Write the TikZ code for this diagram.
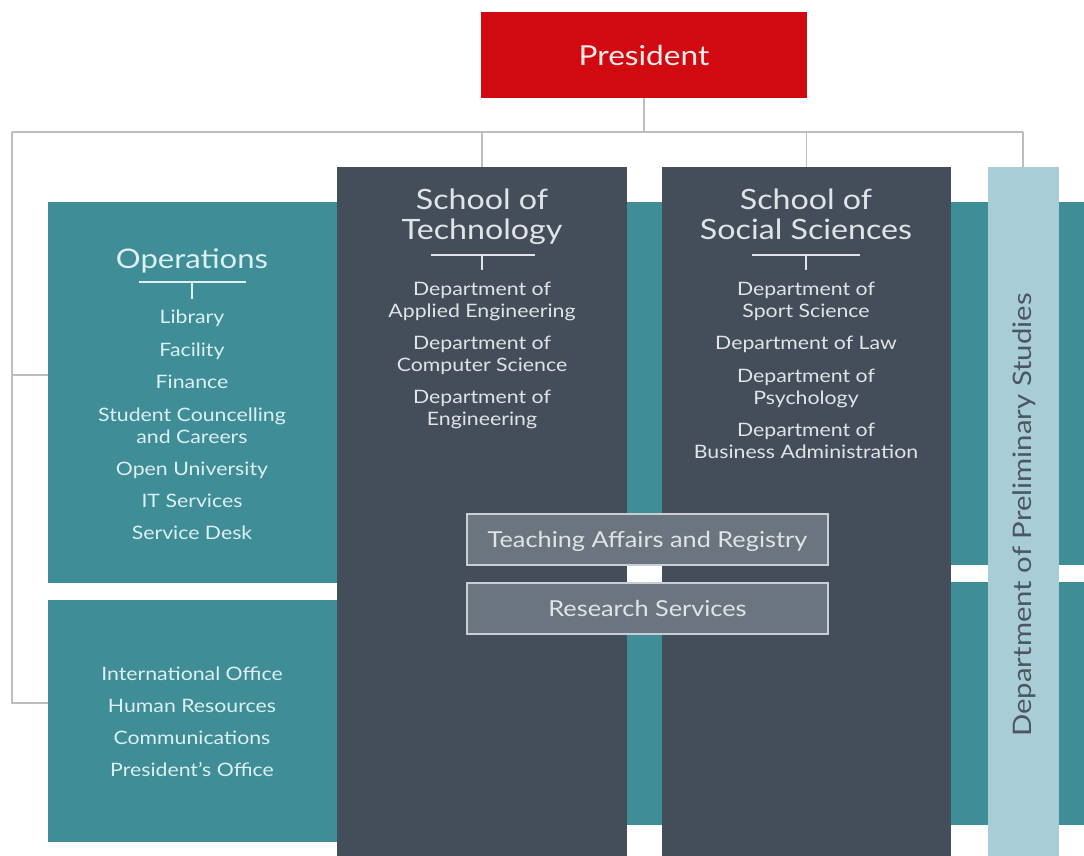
\documentclass[tikz,border=0pt]{standalone}
\usepackage{fontspec}
\setmainfont{Lato}[FakeStretch=1.15]
\definecolor{presred}{HTML}{D00A10}
\definecolor{teal}{HTML}{3E8D97}
\definecolor{slate}{HTML}{444D5A}
\definecolor{pale}{HTML}{A9CDD6}
\definecolor{unitgray}{HTML}{6B7580}
\definecolor{unitedge}{HTML}{C8CED3}
\definecolor{wire}{HTML}{BDBDBD}
\definecolor{lighttext}{HTML}{DDF0F1}
\definecolor{darktext}{HTML}{E1E4E7}
\definecolor{paletext}{HTML}{4B5662}
\begin{document}
\begin{tikzpicture}[x=1pt,y=-1pt,
  block/.style={rectangle,inner sep=0pt,outer sep=0pt,anchor=north west},
  conn/.style={draw=wire,line width=1.6pt},
  tick/.style={line width=1.2pt},
  item/.style={anchor=base,inner sep=0pt,font=\fontsize{18.5}{20}\selectfont},
  opsitem/.style={item,text=lighttext},
  deptitem/.style={item,text=darktext},
  head/.style={anchor=base,inner sep=0pt,font=\fontsize{28}{30}\selectfont},
  unit/.style={rectangle,inner sep=0pt,fill=unitgray,draw=unitedge,line width=1.5pt,
    minimum width=361pt,minimum height=51pt,text height=15pt,text depth=0pt,
    text=darktext,font=\fontsize{22}{24}\selectfont}]
\useasboundingbox (0,0) rectangle (1084,856);
\fill[white] (0,0) rectangle (1084,856);

% teal service bands behind the schools
\fill[teal] (337,202) rectangle (1084,565);
\fill[teal] (337,582) rectangle (1084,825);

% left service blocks
\node[block,fill=teal,minimum width=289pt,minimum height=381pt] (ops) at (48,202) {};
\node[block,fill=teal,minimum width=289pt,minimum height=242pt] (admin) at (48,600) {};

% schools and preliminary studies column
\node[block,fill=slate,minimum width=290pt,minimum height=689pt] (sot) at (337,167) {};
\node[block,fill=slate,minimum width=289pt,minimum height=689pt] (sss) at (662,167) {};
\node[block,fill=pale,minimum width=71pt,minimum height=689pt] (dps) at (988,167) {};

% president
\node[rectangle,inner sep=0pt,fill=presred,minimum width=326pt,minimum height=86pt,
  text=white!92!red,font=\fontsize{27.5}{28}\selectfont] (pres) at (644,55) {President};

% reporting lines
\coordinate (bus) at (644,132);
\coordinate (busL) at (12,132);
\coordinate (busR) at (1023,132);
\draw[conn] (pres.south) -- (bus);
\draw[conn] (busL) -- (busR);
\draw[conn] (sot.north |- bus) -- (sot.north);
\draw[conn] (sss.north |- bus) -- (sss.north);
\draw[conn] (busR) -- (busR |- dps.north);
\draw[conn] (busL) |- ([yshift=17.5pt]ops.west);
\draw[conn] (busL) |- ([yshift=18pt]admin.west);

% Operations
\node[head,text=lighttext,font=\fontsize{27}{28}\selectfont] (opsh) at (192,268) {Operations};
\draw[lighttext,tick] (139,282) -- (246,282) (192,282) -- (192,299);
\node[opsitem] (o1) at (192,323.5) {Library};
\node[opsitem] (o2) at (192,356.5) {Facility};
\node[opsitem] (o3) at (192,388.5) {Finance};
\node[opsitem] (o4) at (192,421.5) {Student Councelling};
\node[opsitem] (o4b) at (192,443.5) {and Careers};
\node[opsitem] (o5) at (192,475.5) {Open University};
\node[opsitem] (o6) at (192,507.5) {IT Services};
\node[opsitem] (o7) at (192,539.5) {Service Desk};

\node[opsitem] (a1) at (192,680.5) {International Office};
\node[opsitem] (a2) at (192,712.5) {Human Resources};
\node[opsitem] (a3) at (192,744.5) {Communications};
\node[opsitem] (a4) at (192,776.5) {President's Office};

% School of Technology
\node[head,text=darktext] (t0) at (482,209.5) {School of};
\node[head,text=darktext] (t0b) at (482,239.5) {Technology};
\draw[darktext,tick] (431,255) -- (535,255) (482,255) -- (482,270);
\node[deptitem] (t1) at (482,295.5) {Department of};
\node[deptitem] (t1b) at (482,317.5) {Applied Engineering};
\node[deptitem] (t2) at (482,349.5) {Department of};
\node[deptitem] (t2b) at (482,371.5) {Computer Science};
\node[deptitem] (t3) at (482,403.5) {Department of};
\node[deptitem] (t3b) at (482,425.5) {Engineering};

% School of Social Sciences
\node[head,text=darktext] (s0) at (806,209.5) {School of};
\node[head,text=darktext] (s0b) at (806,239.5) {Social Sciences};
\draw[darktext,tick] (752,255) -- (860,255) (806,255) -- (806,270);
\node[deptitem] (s1) at (806,295.5) {Department of};
\node[deptitem] (s1b) at (806,317.5) {Sport Science};
\node[deptitem] (s2) at (806,349.5) {Department of Law};
\node[deptitem] (s3) at (806,382.5) {Department of};
\node[deptitem] (s3b) at (806,404.5) {Psychology};
\node[deptitem] (s4) at (806,436.5) {Department of};
\node[deptitem] (s4b) at (806,458.5) {Business Administration};

% shared units
\node[unit] (tar) at (647.5,539.5) {Teaching Affairs and Registry};
\node[unit] (rs) at (647.5,608.5) {Research Services};

% preliminary studies label
\node[rotate=90,inner sep=0pt,text=paletext,font=\fontsize{25.5}{26}\selectfont] (dpsl) at (1024,515) {Department of Preliminary Studies};
\end{tikzpicture}
\end{document}
